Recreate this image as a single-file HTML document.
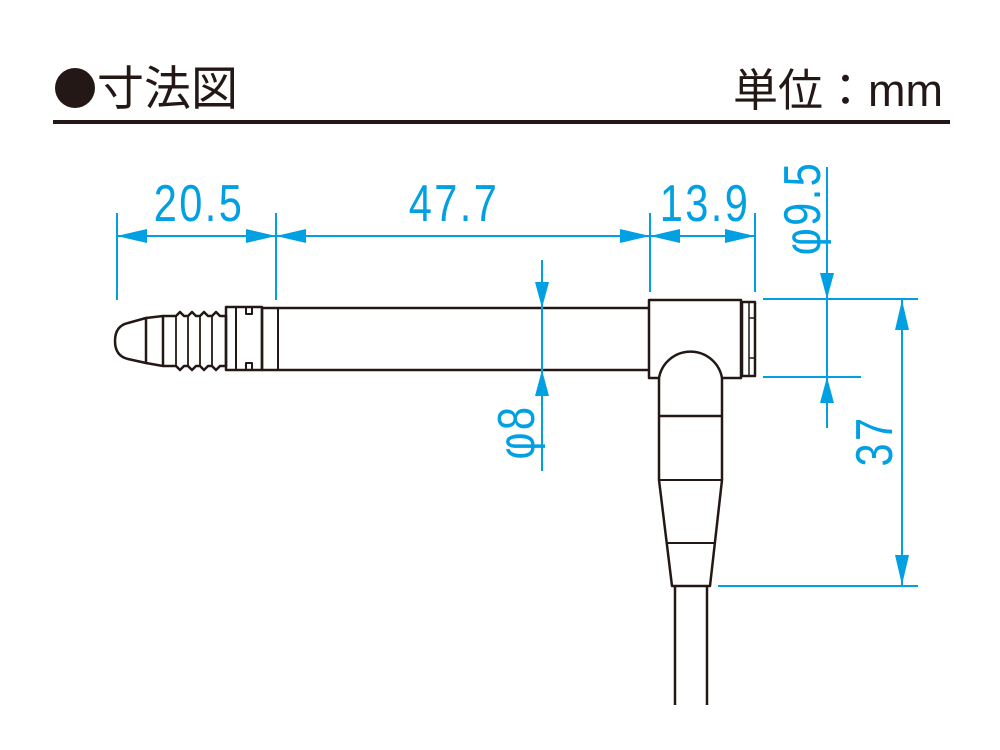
<!DOCTYPE html>
<html><head><meta charset="utf-8"><style>
html,body{margin:0;padding:0;background:#fff;}
svg{display:block;}
.t{font-family:"Liberation Sans",sans-serif;fill:#00a0e3;font-size:52px;letter-spacing:3px;}
</style></head><body>
<svg width="1000" height="750" viewBox="0 0 1000 750" xmlns="http://www.w3.org/2000/svg">
<circle cx="75" cy="88" r="20" fill="#231815"/>
<text x="97" y="105" font-family="'Liberation Sans','Noto Sans CJK JP',sans-serif" font-size="47" fill="#231815">寸法図</text>
<text x="943" y="106" text-anchor="end" font-family="'Liberation Sans','Noto Sans CJK JP',sans-serif" font-size="45" fill="#231815">単位：mm</text>
<rect x="53" y="120" width="897" height="4" fill="#231815"/>

<g fill="none" stroke="#231815" stroke-width="2.5" stroke-linejoin="round">
<path d="M128 323 Q115 326 115 341 Q115 356 128 359 L146 363 L146 318 Z"/>
<path d="M146 318 L163 316 L163 366 L146 363"/>
<path d="M163 316 L176 316 L180 312 L184 316 L188 316 L192 312 L196 316 L200 316 L204 312 L208 316 L212 316 L216 312 L220 316 L226 316 L226 366 L220 366 L216 370 L212 366 L208 366 L204 370 L200 366 L196 366 L192 370 L188 366 L184 366 L180 370 L176 366 L163 366"/>
<line x1="176" y1="316" x2="176" y2="366" stroke-width="1.8"/>
<line x1="188" y1="316" x2="188" y2="366" stroke-width="1.8"/>
<line x1="200" y1="316" x2="200" y2="366" stroke-width="1.8"/>
<line x1="212" y1="316" x2="212" y2="366" stroke-width="1.8"/>
<rect x="226" y="307" width="36" height="63"/>
<line x1="236" y1="307" x2="236" y2="370" stroke-width="2"/>
<path d="M246 307 L246 314 L252 314 L252 307 M246 370 L246 363 L252 363 L252 370" stroke-width="2"/>
<path d="M262 308 L649 308 M262 370 L649 370 M262 308 L262 370"/>
<line x1="278" y1="308" x2="278" y2="370" stroke-width="2"/>
<path d="M649 300 L741 300 L741 378 L722 378 A32 32 0 0 0 659 378 L649 378 Z"/>
<rect x="742" y="302" width="13" height="74"/>
<line x1="749" y1="318" x2="755" y2="318" stroke-width="1.5"/>
<line x1="749" y1="358" x2="755" y2="358" stroke-width="1.5"/>
<line x1="749" y1="302" x2="749" y2="376" stroke-width="1.5"/>
<path d="M659 378 L659 480 L672 586 L710 586 L722 480 L722 378"/>
<line x1="659" y1="416" x2="722" y2="416"/>
<line x1="659" y1="480" x2="722" y2="480" stroke-width="2"/>
<line x1="667" y1="543" x2="714" y2="543" stroke-width="2"/>
<path d="M675 586 L675 705 M707 586 L707 705"/>
</g>

<g stroke="#00a0e3" stroke-width="2" fill="none">
<line x1="117" y1="213" x2="117" y2="300"/>
<line x1="276" y1="213" x2="276" y2="300"/>
<line x1="650" y1="213" x2="650" y2="292"/>
<line x1="755" y1="213" x2="755" y2="292"/>
<line x1="117" y1="236" x2="755" y2="236"/>
<line x1="542" y1="260" x2="542" y2="471"/>
<line x1="827" y1="167" x2="827" y2="428"/>
<line x1="763" y1="299" x2="918" y2="299"/>
<line x1="763" y1="377" x2="861" y2="377"/>
<line x1="718" y1="586" x2="918" y2="586"/>
<line x1="902" y1="299" x2="902" y2="586"/>
</g>
<g fill="#00a0e3">
<path d="M117 236 L147 229 L147 243 Z"/>
<path d="M276 236 L246 229 L246 243 Z"/>
<path d="M276 236 L306 229 L306 243 Z"/>
<path d="M650 236 L620 229 L620 243 Z"/>
<path d="M650 236 L680 229 L680 243 Z"/>
<path d="M755 236 L725 229 L725 243 Z"/>
<path d="M542 308 L535 282 L549 282 Z"/>
<path d="M542 370 L535 396 L549 396 Z"/>
<path d="M827 299 L820 273 L834 273 Z"/>
<path d="M827 377 L820 403 L834 403 Z"/>
<path d="M902 300 L895 330 L909 330 Z"/>
<path d="M902 585 L895 555 L909 555 Z"/>
</g>
<g class="t">
<text transform="translate(199,221) scale(0.8,1)" text-anchor="middle">20.5</text>
<text transform="translate(454,221) scale(0.8,1)" text-anchor="middle">47.7</text>
<text transform="translate(705,221) scale(0.8,1)" text-anchor="middle">13.9</text>
<text transform="translate(820,208) rotate(-90) scale(0.8,1)" text-anchor="middle">φ9.5</text>
<text transform="translate(534,432) rotate(-90) scale(0.8,1)" text-anchor="middle">φ8</text>
<text transform="translate(892,441) rotate(-90) scale(0.8,1)" text-anchor="middle">37</text>
</g>
</svg>
</body></html>
